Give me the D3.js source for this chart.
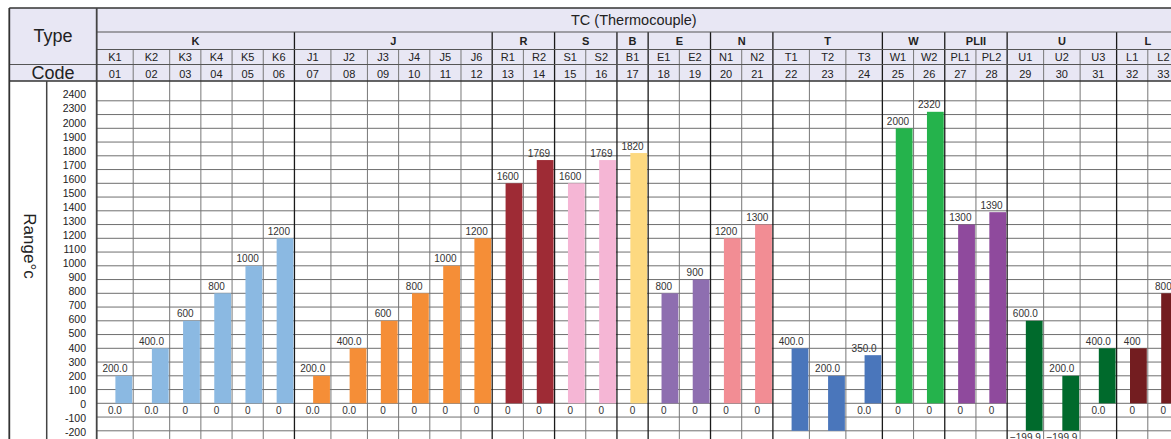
<!DOCTYPE html>
<html>
<head>
<meta charset="utf-8">
<script src="https://cdn.jsdelivr.net/npm/d3@7"></script>
<style>
  html, body { margin: 0; padding: 0; background: #fff; }
  svg { display: block; font-family: "Liberation Sans", Arial, sans-serif; }
</style>
</head>
<body>
<svg id="chart" width="1171" height="439"></svg>
<script>
// Thermocouple input codes and their measuring ranges (°C)
const groupNames = ["K", "J", "R", "S", "B", "E", "N", "T", "W", "PLII", "U", "L"];
const groupSizes = [6, 6, 2, 2, 1, 2, 2, 3, 2, 2, 3, 2];
const groupColors = ["#8bb9e2", "#f58e37", "#9e2b35", "#f5b6d5", "#fdd980", "#8e6eb0",
                     "#f28d94", "#4a76bb", "#25b34c", "#8f4a9d", "#006a2c", "#731d20"];

const codes = ["K1", "K2", "K3", "K4", "K5", "K6",
               "J1", "J2", "J3", "J4", "J5", "J6",
               "R1", "R2", "S1", "S2", "B1", "E1", "E2", "N1", "N2",
               "T1", "T2", "T3", "W1", "W2", "PL1", "PL2", "U1", "U2", "U3", "L1", "L2"];
const codeNumbers = ["01", "02", "03", "04", "05", "06", "07", "08", "09", "10", "11",
                     "12", "13", "14", "15", "16", "17", "18", "19", "20", "21", "22",
                     "23", "24", "25", "26", "27", "28", "29", "30", "31", "32", "33"];

// upper and lower limits of each range
const upperValues = [200, 400, 600, 800, 1000, 1200,
                     200, 400, 600, 800, 1000, 1200,
                     1600, 1769, 1600, 1769, 1820, 800, 900, 1200, 1300,
                     400, 200, 350, 2000, 2320, 1300, 1390, 600, 200, 400, 400, 800];
const lowerValues = [0, 0, 0, 0, 0, 0,
                     0, 0, 0, 0, 0, 0,
                     0, 0, 0, 0, 0, 0, 0, 0, 0,
                     -200, -200, 0, 0, 0, 0, 0, -199.9, -199.9, 0, 0, 0];
// number of decimals printed for each code's limits
const labelDecimals = [1, 1, 0, 0, 0, 0,
                       1, 1, 0, 0, 0, 0,
                       0, 0, 0, 0, 0, 0, 0, 0, 0,
                       1, 1, 1, 0, 0, 0, 0, 1, 1, 1, 0, 0];
// codes whose lower limit is not printed
const unlabeledLower = ["T1", "T2"];

// range axis tick labels, top to bottom
const yTickValues = [2400, 2300, 2000, 1900, 1800, 1700, 1600, 1500, 1400, 1300, 1200,
                     1100, 1000, 900, 800, 700, 600, 500, 400, 300, 200, 100, 0, -100, -200];

const W = 1171, H = 439;
const svg = d3.select("#chart");

// ---- layout ----
const left = 9.3, typeRight = 96.7, rangeColRight = 46.7;
const rowTop = 8, rowTitle = 32, rowGroup = 49.5, rowCode = 64.5, bodyTop = 81;
const headerFill = "#e8e7f4";

// column widths: columns printing decimals get extra room
const units = labelDecimals.map(d => d ? 1.17 : 1);
const edges = [0];
units.forEach(u => edges.push(edges[edges.length - 1] + u));
const x = d3.scaleLinear().domain([0, 1]).range([typeRight, typeRight + 31.19]);
const colLeft = i => x(edges[i]);
const colRight = i => x(edges[i + 1]);
const colMid = i => (colLeft(i) + colRight(i)) / 2;

// group membership
const groupOfCol = [];
const groupStart = [];
let acc = 0;
groupSizes.forEach((n, g) => { groupStart.push(acc); for (let k = 0; k < n; k++) groupOfCol.push(g); acc += n; });

// y scale: evenly spaced rows for each printed tick value
const ySorted = yTickValues.slice().sort((a, b) => a - b);
const step = 13.75, yBottom = 430.8;
const y = d3.scaleLinear()
  .domain(ySorted)
  .range(ySorted.map((v, k) => yBottom - k * step));
const yLabel = d3.scalePoint().domain(yTickValues).range([94.5, 432]);

// ---- header backgrounds ----
svg.append("rect").attr("x", left).attr("y", rowTop).attr("width", W - left).attr("height", bodyTop - rowTop)
  .attr("fill", headerFill);

// ---- body gridlines ----
const grid = svg.append("g");
grid.selectAll("line.h").data(yTickValues).join("line")
  .attr("x1", typeRight).attr("x2", W)
  .attr("y1", d => y(d)).attr("y2", d => y(d))
  .attr("stroke", "#6f6f6f").attr("stroke-width", 1);

// vertical column lines (body + code rows)
codes.forEach((c, i) => {
  if (i === 0) return;
  const isGroup = groupStart.includes(i);
  const xv = colLeft(i);
  grid.append("line")
    .attr("x1", xv).attr("x2", xv)
    .attr("y1", isGroup ? rowTitle : rowGroup).attr("y2", H)
    .attr("stroke", isGroup ? "#1a1a1a" : "#777").attr("stroke-width", isGroup ? 1.3 : 1);
});
// right edge of last column
grid.append("line").attr("x1", colRight(codes.length - 1)).attr("x2", colRight(codes.length - 1))
  .attr("y1", rowGroup).attr("y2", H).attr("stroke", "#777");

// ---- bars ----
const barW = 16.8;
svg.append("g").selectAll("rect").data(codes).join("rect")
  .attr("x", (d, i) => colRight(i) - barW - 1)
  .attr("width", barW)
  .attr("y", (d, i) => y(upperValues[i]))
  .attr("height", (d, i) => y(lowerValues[i]) - y(upperValues[i]))
  .attr("fill", (d, i) => groupColors[groupOfCol[i]]);

// ---- value labels ----
const fmt = (v, i) => d3.format("." + labelDecimals[i] + "f")(v);
const labels = svg.append("g").attr("font-size", "10px").attr("fill", "#333").attr("text-anchor", "middle");
codes.forEach((c, i) => {
  labels.append("text").attr("x", colMid(i)).attr("y", y(upperValues[i]) - 3.5).text(fmt(upperValues[i], i));
  if (!unlabeledLower.includes(c)) {
    labels.append("text").attr("x", colMid(i)).attr("y", y(lowerValues[i]) + 10.5).text(fmt(lowerValues[i], i));
  }
});

// ---- header rows ----
const hdr = svg.append("g").attr("text-anchor", "middle").attr("fill", "#222");
hdr.append("text").attr("x", (typeRight + W) / 2).attr("y", rowTitle - 7)
  .attr("font-size", "14.5px").text("TC (Thermocouple)");
groupNames.forEach((g, gi) => {
  const a = colLeft(groupStart[gi]);
  const b = colRight(groupStart[gi] + groupSizes[gi] - 1);
  hdr.append("text").attr("x", (a + b) / 2).attr("y", rowGroup - 4.5)
    .attr("font-size", "11px").attr("font-weight", "bold").text(g);
});
codes.forEach((c, i) => {
  hdr.append("text").attr("x", colMid(i)).attr("y", rowCode - 3.5).attr("font-size", "11px").text(c);
  hdr.append("text").attr("x", colMid(i)).attr("y", bodyTop - 3.5).attr("font-size", "11px").text(codeNumbers[i]);
});
hdr.append("text").attr("x", (left + typeRight) / 2).attr("y", 42).attr("font-size", "18px").text("Type");
hdr.append("text").attr("x", (left + typeRight) / 2).attr("y", bodyTop - 2.5).attr("font-size", "18px").text("Code");

// ---- header lines ----
const hl = svg.append("g").attr("stroke", "#555");
hl.append("line").attr("x1", left).attr("x2", W).attr("y1", rowTop).attr("y2", rowTop).attr("stroke-width", 1.5).attr("stroke", "#333");
hl.append("line").attr("x1", typeRight).attr("x2", W).attr("y1", rowTitle).attr("y2", rowTitle);
hl.append("line").attr("x1", typeRight).attr("x2", W).attr("y1", rowGroup).attr("y2", rowGroup);
hl.append("line").attr("x1", left).attr("x2", W).attr("y1", rowCode).attr("y2", rowCode);
hl.append("line").attr("x1", left).attr("x2", W).attr("y1", bodyTop).attr("y2", bodyTop).attr("stroke-width", 1.3).attr("stroke", "#333");
hl.append("line").attr("x1", left).attr("x2", left).attr("y1", rowTop).attr("y2", H).attr("stroke-width", 1.8).attr("stroke", "#333");
hl.append("line").attr("x1", typeRight).attr("x2", typeRight).attr("y1", rowTop).attr("y2", H).attr("stroke-width", 1.8).attr("stroke", "#444");
hl.append("line").attr("x1", rangeColRight).attr("x2", rangeColRight).attr("y1", bodyTop).attr("y2", H).attr("stroke-width", 1.5).attr("stroke", "#444");

// ---- range axis ----
const axis = svg.append("g").attr("transform", `translate(86,0)`)
  .call(d3.axisLeft(yLabel).tickSize(0).tickPadding(0));
axis.select(".domain").remove();
axis.selectAll("text").attr("font-size", "10.5px").attr("fill", "#222")
  .attr("font-family", "Liberation Sans, Arial, sans-serif");

svg.append("text").attr("transform", `translate(24,246) rotate(90)`)
  .attr("text-anchor", "middle").attr("font-size", "17px").attr("fill", "#222")
  .text("Range°c");
</script>
</body>
</html>
